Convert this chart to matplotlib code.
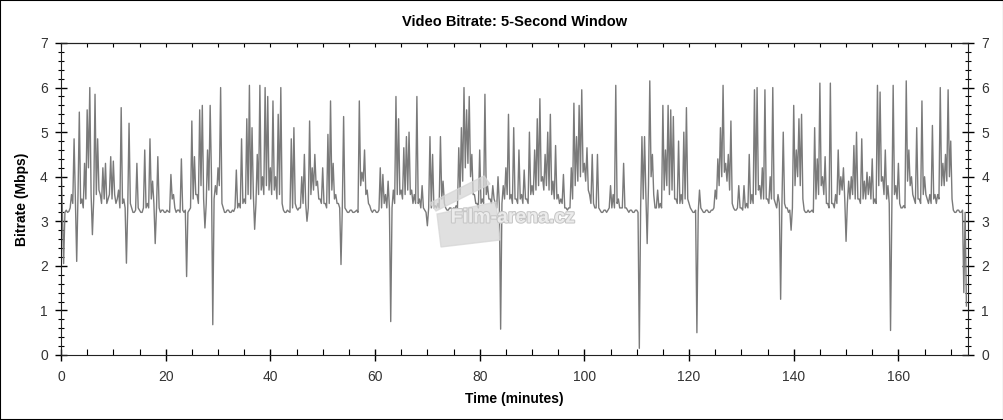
import matplotlib
matplotlib.use("Agg")
import matplotlib.pyplot as plt
import numpy as np
from matplotlib.ticker import MultipleLocator
from matplotlib.patches import Polygon, Rectangle
import matplotlib.patheffects as pe

plt.rcParams['font.family'] = ['Liberation Sans', 'DejaVu Sans']

## one value every 15 seconds (Mbps), one row = 5 minutes
step_min = 0.25
bitrate = [
    4.4, 3.3, 2.05, 3.2, 3.25, 3.2, 3.22, 3.3, 3.6, 3.4, 4.85, 3.5, 2.1, 3.6, 5.45, 3.4, 3.5, 3.3, 4.3, 3.5,
    5.5, 4.2, 6.0, 3.6, 2.7, 3.5, 5.85, 3.6, 4.85, 3.7, 3.6, 3.4, 4.2, 3.5, 4.3, 3.4, 3.5, 3.6, 4.45, 3.5,
    4.35, 3.6, 3.4, 3.5, 3.7, 3.3, 5.55, 3.4, 3.5, 3.3, 2.06, 3.3, 5.2, 3.4, 3.3, 3.2, 3.2, 3.25, 4.3, 3.3,
    3.25, 3.2, 3.2, 3.3, 4.6, 3.3, 3.4, 3.3, 4.85, 3.5, 3.9, 3.4, 2.5, 3.3, 4.45, 3.3, 3.2, 3.25, 3.25, 3.2,
    3.2, 3.25, 3.22, 3.2, 4.05, 3.5, 3.6, 3.3, 3.2, 3.25, 3.25, 3.2, 4.4, 3.25, 3.2, 3.25, 1.76, 3.2, 3.25, 3.3,
    5.25, 3.5, 4.45, 3.6, 3.6, 3.4, 5.5, 3.8, 5.6, 3.5, 2.85, 3.4, 4.6, 3.7, 5.6, 4.0, 0.68, 3.5, 3.8, 3.6,
    4.2, 3.8, 6.0, 3.4, 3.3, 3.2, 3.2, 3.25, 3.25, 3.2, 3.2, 3.25, 3.22, 3.3, 4.15, 3.3, 3.4, 3.3, 4.85, 3.4,
    3.5, 3.4, 5.3, 3.6, 6.05, 3.5, 5.1, 3.6, 2.82, 3.4, 4.5, 3.6, 6.05, 3.7, 4.0, 3.6, 6.0, 3.8, 5.8, 3.7,
    4.2, 3.6, 5.7, 3.7, 4.0, 3.5, 5.4, 3.6, 6.0, 3.4, 3.25, 3.2, 3.2, 3.25, 3.22, 3.2, 4.85, 3.3, 5.1, 3.4,
    3.3, 3.25, 3.3, 3.3, 4.0, 3.4, 4.5, 3.4, 3.0, 3.3, 5.25, 3.6, 4.2, 3.7, 4.5, 3.8, 3.9, 3.5, 3.5, 3.4,
    4.2, 3.4, 3.4, 3.3, 4.95, 3.4, 5.7, 3.7, 4.3, 3.5, 3.6, 3.4, 3.4, 3.3, 2.03, 3.3, 5.35, 3.3, 3.25, 3.2,
    3.2, 3.25, 3.25, 3.2, 3.2, 3.22, 3.25, 3.2, 5.7, 3.8, 4.1, 3.9, 4.6, 3.6, 3.7, 3.4, 3.35, 3.25, 3.2, 3.25,
    3.25, 3.2, 3.2, 3.25, 4.2, 3.3, 4.05, 3.4, 3.6, 3.3, 3.9, 3.3, 0.75, 3.3, 3.7, 3.4, 5.8, 3.6, 5.3, 3.6,
    3.7, 3.5, 4.65, 3.6, 4.9, 3.7, 5.0, 3.6, 3.7, 3.4, 3.6, 3.4, 5.8, 3.4, 3.5, 3.3, 3.8, 3.3, 3.25, 3.2,
    2.9, 3.3, 4.9, 3.3, 4.5, 3.3, 3.35, 3.3, 3.4, 3.3, 4.9, 3.5, 3.9, 3.4, 3.3, 3.25, 3.25, 3.3, 3.3, 3.25,
    3.3, 3.28, 3.35, 3.3, 4.65, 3.6, 5.1, 3.9, 6.0, 4.2, 5.5, 4.3, 5.8, 4.0, 4.5, 3.6, 3.6, 3.4, 3.4, 3.3,
    4.6, 3.4, 3.5, 3.4, 5.85, 3.6, 3.8, 3.5, 3.5, 3.4, 3.8, 3.5, 3.4, 3.3, 4.0, 3.4, 0.58, 3.4, 3.8, 3.5,
    4.2, 3.6, 5.4, 3.5, 3.6, 3.4, 5.1, 3.5, 3.5, 3.4, 4.6, 3.5, 3.6, 3.4, 4.15, 3.5, 3.5, 3.4, 5.0, 3.6,
    3.8, 3.6, 4.6, 3.7, 5.3, 3.8, 5.75, 3.9, 4.0, 3.7, 4.5, 3.8, 5.0, 3.7, 5.4, 3.6, 3.9, 3.5, 4.7, 3.5,
    3.6, 3.4, 3.5, 3.4, 4.05, 3.3, 3.3, 3.25, 3.3, 3.3, 4.2, 3.5, 5.65, 3.8, 4.9, 3.9, 5.6, 4.0, 5.95, 4.1,
    4.3, 3.9, 4.65, 3.7, 3.6, 3.4, 4.5, 3.4, 3.3, 3.3, 4.5, 3.3, 3.25, 3.2, 3.2, 3.25, 3.25, 3.2, 3.25, 3.3,
    3.8, 3.3, 3.6, 3.3, 6.05, 3.4, 3.5, 3.3, 3.3, 3.3, 4.3, 3.3, 3.3, 3.25, 3.2, 3.25, 3.25, 3.2, 3.2, 3.25,
    3.25, 3.2, 0.15, 3.3, 4.9, 3.5, 4.9, 3.6, 2.5, 3.8, 6.15, 4.0, 4.5, 3.6, 3.3, 3.3, 3.7, 3.3, 3.4, 3.3,
    5.6, 3.7, 4.6, 3.8, 5.6, 3.6, 5.5, 3.7, 5.35, 3.5, 3.5, 3.4, 4.8, 3.4, 3.6, 3.4, 5.0, 3.5, 5.55, 3.5,
    3.4, 3.3, 3.25, 3.2, 3.2, 3.25, 0.5, 3.2, 3.7, 3.3, 3.25, 3.2, 3.2, 3.25, 3.25, 3.2, 3.2, 3.25, 3.25, 3.3,
    3.7, 3.5, 4.4, 3.8, 5.1, 4.0, 6.05, 4.1, 4.3, 3.9, 4.5, 3.7, 5.25, 3.4, 3.3, 3.25, 3.25, 3.3, 3.8, 3.3,
    3.3, 3.25, 3.8, 3.3, 3.4, 3.3, 4.5, 3.4, 3.6, 3.4, 5.95, 3.6, 6.0, 3.7, 3.8, 3.5, 4.2, 3.5, 5.95, 3.5,
    3.5, 3.4, 4.0, 3.5, 6.0, 3.5, 3.4, 3.3, 3.6, 3.4, 1.25, 3.4, 5.0, 3.4, 3.3, 3.3, 3.2, 3.25, 2.8, 3.3,
    5.6, 3.8, 4.6, 4.0, 5.3, 3.8, 5.4, 3.5, 3.25, 3.2, 3.2, 3.25, 3.2, 3.22, 3.25, 3.2, 5.1, 3.5, 4.4, 3.6,
    6.1, 3.8, 4.0, 3.6, 4.45, 3.4, 3.4, 3.3, 6.1, 3.4, 3.4, 3.3, 3.6, 3.4, 4.6, 3.6, 4.0, 3.7, 4.2, 3.5,
    2.55, 3.4, 3.9, 3.5, 4.0, 3.6, 4.7, 3.5, 5.0, 3.5, 3.5, 3.4, 4.85, 3.5, 3.9, 3.5, 4.1, 3.6, 4.0, 3.5,
    4.4, 3.4, 3.5, 3.4, 6.05, 3.8, 5.9, 3.9, 4.0, 3.6, 4.6, 3.5, 3.8, 3.4, 0.55, 3.4, 6.05, 3.6, 3.8, 3.5,
    4.3, 3.4, 3.3, 3.3, 3.35, 3.3, 6.15, 3.9, 4.6, 3.8, 4.0, 3.6, 3.5, 3.4, 5.1, 3.5, 3.5, 3.4, 5.7, 3.6,
    4.0, 3.6, 3.5, 3.4, 3.6, 3.4, 5.15, 3.5, 3.6, 3.4, 3.6, 3.5, 6.0, 3.8, 4.3, 3.8, 4.5, 3.9, 5.95, 4.0,
    4.8, 3.5, 3.25, 3.2, 3.2, 3.25, 3.25, 3.2, 3.2, 3.25, 1.4, 3.2, 1.1,
]
minutes = np.arange(len(bitrate)) * step_min

fig = plt.figure(figsize=(10.04, 4.2), dpi=100)
ax = fig.add_axes([61 / 1004, 65 / 420, 907 / 1004, 312 / 420])

ax.plot(minutes, bitrate, color='#7a7a7a', lw=1.0)

ax.set_xlim(0, 173.3)
ax.set_ylim(0, 7)
ax.xaxis.set_major_locator(MultipleLocator(20))
ax.xaxis.set_minor_locator(MultipleLocator(5))
ax.yaxis.set_major_locator(MultipleLocator(1))
ax.yaxis.set_minor_locator(MultipleLocator(0.2))

ax.tick_params(axis='y', which='major', direction='inout', length=9, width=1,
               right=True, labelright=True, labelsize=10, labelcolor='#333333', pad=5)
ax.tick_params(axis='y', which='minor', direction='inout', length=5, width=0.8, right=True)
ax.tick_params(axis='x', which='major', direction='inout', length=9, width=1,
               labelsize=10, labelcolor='#333333', pad=6)
ax.tick_params(axis='x', which='minor', direction='in', length=4, width=0.8)

top = ax.secondary_xaxis('top')
top.xaxis.set_major_locator(MultipleLocator(20))
top.xaxis.set_minor_locator(MultipleLocator(5))
top.tick_params(which='both', direction='in', length=3, width=0.8, labeltop=False)

for s in ax.spines.values():
    s.set_color('#222222')

ax.set_title('Video Bitrate: 5-Second Window', fontsize=10.5, fontweight='bold', pad=12)
ax.set_xlabel('Time (minutes)', fontsize=10, fontweight='bold', labelpad=6)
ax.set_ylabel('Bitrate (Mbps)', fontsize=10, fontweight='bold', labelpad=8)

## watermark logo
px = lambda x, y: (x / 1004, 1 - y / 420)
clap = Polygon([px(430, 203), px(484, 176), px(490, 184), px(436, 211)],
               closed=True, transform=fig.transFigure, color='#d6d6d6', alpha=0.75, zorder=3)
body = Polygon([px(437, 214), px(496, 202), px(500, 240), px(441, 247)],
               closed=True, transform=fig.transFigure, color='#d6d6d6', alpha=0.75, zorder=3)
fig.add_artist(clap)
fig.add_artist(body)
fig.text(513 / 1004, 1 - 218 / 420, 'Film-arena.cz', fontsize=14, fontweight='bold',
         color='#ececec', ha='center', va='center', zorder=4,
         path_effects=[pe.withStroke(linewidth=1.5, foreground='#c6c6c6')])

fig.add_artist(Rectangle((0, 0), 1, 1, transform=fig.transFigure, fill=False,
                         edgecolor='black', lw=1.5))

fig.savefig('out.png', dpi=100)
